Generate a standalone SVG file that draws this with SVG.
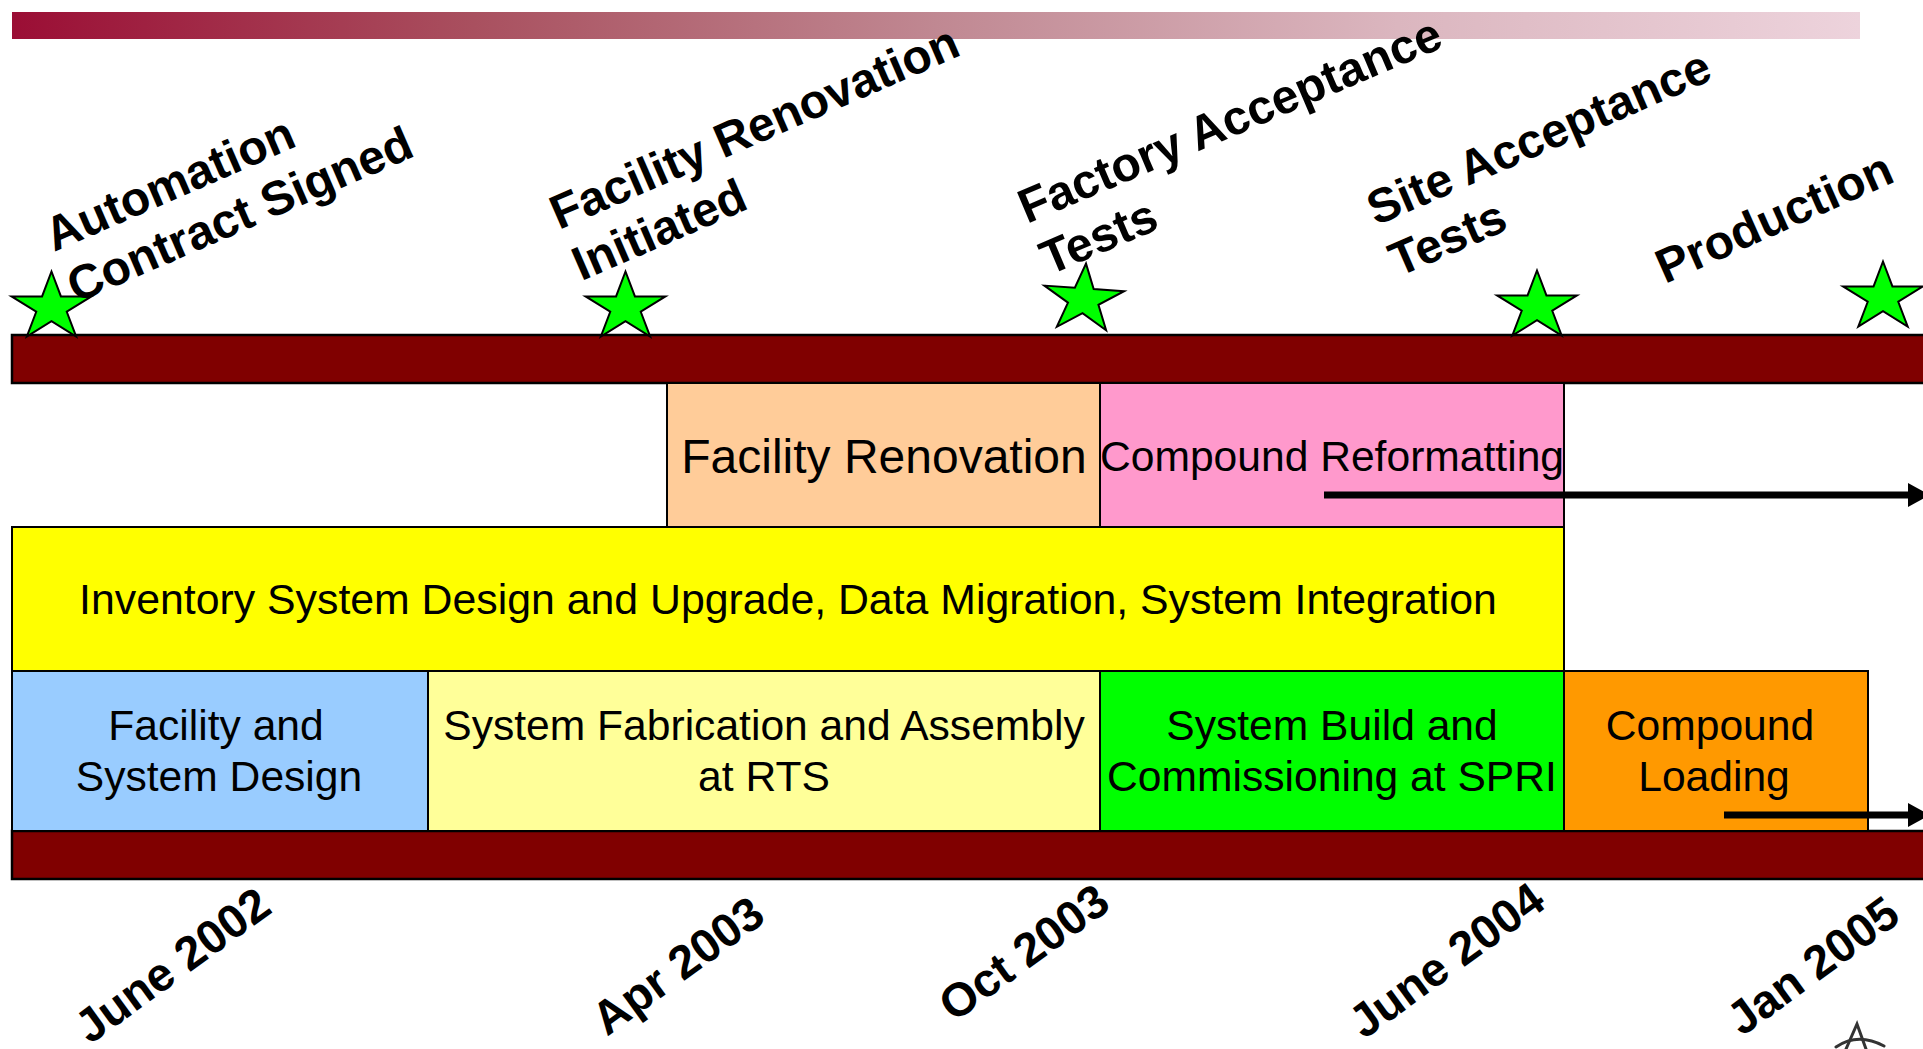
<svg xmlns="http://www.w3.org/2000/svg" width="1923" height="1049" viewBox="0 0 1923 1049">
<style>
.bar{fill:#800000;stroke:#000;stroke-width:2.5}
.box{stroke:#000;stroke-width:2}
.t{font-family:"Liberation Sans",Arial,sans-serif;font-size:42.6px;fill:#000;text-anchor:middle}
.lab{font-family:"Liberation Sans",Arial,sans-serif;font-size:48px;font-weight:bold;fill:#000}
.date{font-family:"Liberation Sans",Arial,sans-serif;font-size:47px;font-weight:bold;fill:#000}
.star{fill:#00FF00;stroke:#000;stroke-width:2;stroke-linejoin:miter}
.arrow{stroke:#000;stroke-width:7;fill:none}
</style>
<defs>
<linearGradient id="hdr" x1="0" y1="0" x2="1" y2="0">
<stop offset="0" stop-color="#9B0E35"/>
<stop offset="0.25" stop-color="#A9505F"/>
<stop offset="0.5" stop-color="#C08892"/>
<stop offset="0.75" stop-color="#DBB6BF"/>
<stop offset="1" stop-color="#EDD3DC"/>
</linearGradient>
<path id="star" d="M0,-36 L9.43,-11.12 L39.94,-11.12 L15.26,4.25 L24.7,29.12 L0,13.75 L-24.7,29.12 L-15.26,4.25 L-39.94,-11.12 L-9.43,-11.12 Z"/>
<marker id="ah" markerUnits="userSpaceOnUse" markerWidth="24" markerHeight="26" refX="0" refY="12" orient="auto" overflow="visible">
<path d="M0,0 L22,12 L0,24 Z" fill="#000"/>
</marker>
</defs>
<rect x="12" y="12" width="1848" height="27" fill="url(#hdr)"/>

<g id="bar-top"><rect class="bar" x="12" y="335" width="1930" height="48"/></g>
<g id="bar-bottom"><rect class="bar" x="12" y="831" width="1930" height="48"/></g>

<g id="facility-renovation"><rect class="box" x="667" y="383" width="433" height="144" fill="#FFCC99"/>
<text class="t" x="884" y="473" style="font-size:48px">Facility Renovation</text></g>
<g id="compound-reformatting"><rect class="box" x="1100" y="383" width="464" height="144" fill="#FF99CC"/>
<text class="t" x="1332" y="471">Compound Reformatting</text></g>
<g id="inventory"><rect class="box" x="12" y="527" width="1552" height="144" fill="#FFFF00"/>
<text class="t" x="788" y="614" style="font-size:42.8px">Inventory System Design and Upgrade, Data Migration, System Integration</text></g>
<g id="facility-design"><rect class="box" x="12" y="671" width="416" height="160" fill="#99CCFF"/>
<text class="t"><tspan x="216" y="740">Facility and</tspan><tspan x="219" y="791">System Design</tspan></text></g>
<g id="fabrication"><rect class="box" x="428" y="671" width="672" height="160" fill="#FFFF99"/>
<text class="t"><tspan x="764" y="740">System Fabrication and Assembly</tspan><tspan x="764" y="791">at RTS</tspan></text></g>
<g id="build"><rect class="box" x="1100" y="671" width="464" height="160" fill="#00FF00"/>
<text class="t"><tspan x="1332" y="740">System Build and</tspan><tspan x="1332" y="791">Commissioning at SPRI</tspan></text></g>
<g id="loading"><rect class="box" x="1564" y="671" width="304" height="160" fill="#FF9900"/>
<text class="t"><tspan x="1710" y="740">Compound</tspan><tspan x="1714" y="791">Loading</tspan></text></g>

<g id="connectors">
<line class="arrow" x1="1324" y1="495" x2="1908" y2="495" marker-end="url(#ah)"/>
<line class="arrow" x1="1724" y1="815" x2="1908" y2="815" marker-end="url(#ah)"/>
</g>

<g id="milestones">
<g id="m1"><use href="#star" class="star" transform="translate(51.5,307.5)"/>
<text class="lab" transform="translate(54,252) rotate(-23.5)"><tspan x="0" y="0">Automation</tspan><tspan x="0" y="56">Contract Signed</tspan></text></g>
<g id="m2"><use href="#star" class="star" transform="translate(625.5,307.5)"/>
<text class="lab" transform="translate(559,230) rotate(-23.5)"><tspan x="0" y="0">Facility Renovation</tspan><tspan x="0" y="56">Initiated</tspan></text></g>
<g id="m3"><use href="#star" class="star" transform="translate(1083.5,299.5) rotate(4)"/>
<text class="lab" transform="translate(1027,224) rotate(-23)"><tspan x="0" y="0">Factory Acceptance</tspan><tspan x="0" y="56">Tests</tspan></text></g>
<g id="m4"><use href="#star" class="star" transform="translate(1537,306.5)"/>
<text class="lab" transform="translate(1376,226) rotate(-23.5)"><tspan x="0" y="0">Site Acceptance</tspan><tspan x="0" y="56">Tests</tspan></text></g>
<g id="m5"><use href="#star" class="star" transform="translate(1883,297.5)"/>
<text class="lab" transform="translate(1665,284) rotate(-24)">Production</text></g>
</g>

<g id="dates">
<text class="date" transform="translate(90,1045) rotate(-36)">June 2002</text>
<text class="date" transform="translate(607,1037) rotate(-36)">Apr 2003</text>
<text class="date" transform="translate(954,1023) rotate(-36)">Oct 2003</text>
<text class="date" transform="translate(1364,1040) rotate(-36)">June 2004</text>
<text class="date" transform="translate(1742,1037) rotate(-36)">Jan 2005</text>
</g>
<g id="logo-fragment" fill="none" stroke="#333" stroke-width="3" stroke-linecap="round">
<path d="M1846,1049 L1857,1024 L1866,1049"/>
<path d="M1836,1047 Q1858,1032 1884,1046"/>
</g>
</svg>
